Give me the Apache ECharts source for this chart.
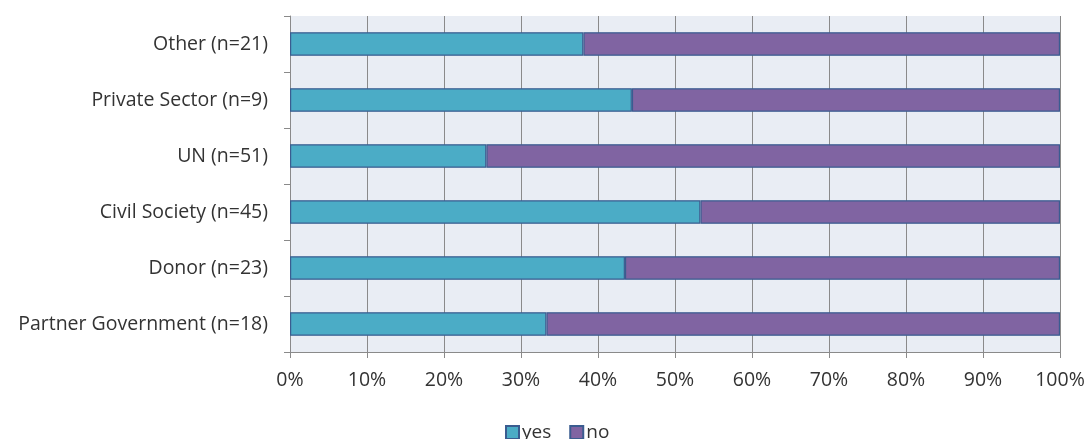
<!DOCTYPE html>
<html>
<head>
<meta charset="utf-8">
<script src="https://cdn.jsdelivr.net/npm/echarts@6/dist/echarts.min.js"></script>
<style>
  html, body { margin: 0; padding: 0; background: #ffffff; }
  #chart { width: 1089px; height: 439px; }
</style>
</head>
<body>
<div id="chart"></div>
<script>
// Respondent groups, listed top to bottom
const categories = [
  'Other (n=21)',
  'Private Sector (n=9)',
  'UN (n=51)',
  'Civil Society (n=45)',
  'Donor (n=23)',
  'Partner Government (n=18)'
];
// Share of each group answering yes / no
const yesShare = [0.381, 0.444, 0.255, 0.533, 0.435, 0.333];
const noShare  = [0.619, 0.556, 0.745, 0.467, 0.565, 0.667];
const xTicks = [0, 0.1, 0.2, 0.3, 0.4, 0.5, 0.6, 0.7, 0.8, 0.9, 1];

const font = 'Open Sans, sans-serif';
const textColor = '#333333';
const axisGrey = '#8a8a8a';
const fontSize = 19.5;

const chart = echarts.init(document.getElementById('chart'), null, { renderer: 'canvas' });
chart.setOption({
  animation: false,
  backgroundColor: '#ffffff',
  textStyle: { fontFamily: font },
  grid: {
    left: 290, right: 29, top: 16, bottom: 87,
    show: true, backgroundColor: '#e9edf4', borderWidth: 0
  },
  legend: {
    top: 423,
    left: 505,
    icon: 'rect',
    itemWidth: 13,
    itemHeight: 13,
    itemGap: 18,
    padding: 0,
    textStyle: { fontFamily: font, fontSize: 19, color: textColor, padding: [0, 0, 0, -2] },
    data: ['yes', 'no']
  },
  xAxis: {
    type: 'value',
    min: xTicks[0],
    max: xTicks[xTicks.length - 1],
    interval: 0.1,
    axisLine: { show: true, lineStyle: { color: axisGrey, width: 1 } },
    axisTick: { show: true, length: 6, lineStyle: { color: axisGrey } },
    splitLine: { show: true, lineStyle: { color: axisGrey, width: 1 } },
    axisLabel: {
      margin: 18,
      fontFamily: font, fontSize: fontSize, color: textColor,
      formatter: v => Math.round(v * 100) + '%'
    }
  },
  yAxis: {
    type: 'category',
    inverse: true,
    data: categories,
    axisLine: { show: true, lineStyle: { color: axisGrey, width: 1 } },
    axisTick: { show: true, length: 6, lineStyle: { color: axisGrey } },
    splitLine: { show: false },
    axisLabel: { margin: 22, fontFamily: font, fontSize: fontSize, color: textColor }
  },
  series: [
    {
      name: 'yes', type: 'bar', stack: 'total', barWidth: '42%',
      data: yesShare,
      itemStyle: { color: '#4bacc6', borderColor: '#3a5c90', borderWidth: 1.2 }
    },
    {
      name: 'no', type: 'bar', stack: 'total', barWidth: '42%',
      data: noShare,
      itemStyle: { color: '#8064a2', borderColor: '#3a5c90', borderWidth: 1.2 }
    }
  ]
});
</script>
</body>
</html>
